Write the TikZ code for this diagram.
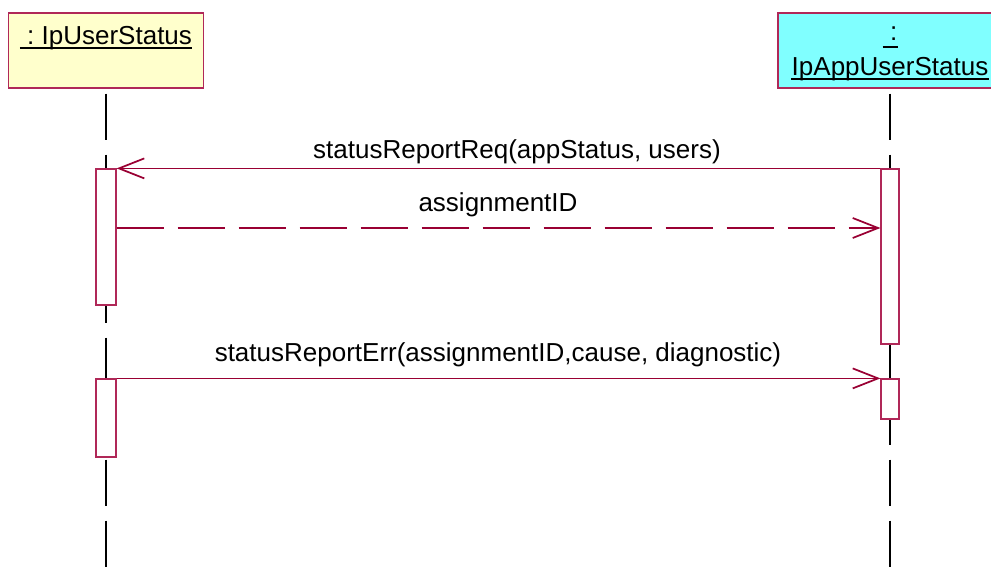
\documentclass[tikz,border=0pt]{standalone}
\usepackage{fontspec}
\setmainfont{Liberation Sans}
\usetikzlibrary{arrows.meta}
\definecolor{linered}{HTML}{990033}
\definecolor{boxedge}{HTML}{B02858}
\definecolor{objyellow}{HTML}{FFFFCC}
\definecolor{objcyan}{HTML}{80FFFF}
\tikzset{
  objbox/.style={draw=boxedge, line width=1pt, minimum height=56.25pt, inner sep=0pt},
  objname/.style={anchor=base, inner sep=0pt, font=\fontsize{19.5pt}{24pt}\selectfont},
  nameline/.style={line width=1.5pt},
  lifeline/.style={line width=0.8pt, dash pattern=on 34.5pt off 11.25pt},
  actbox/.style={draw=boxedge, fill=white, line width=0.9pt, minimum width=15pt, inner sep=0pt},
  msg/.style={draw=linered, line width=1.1pt, -{Straight Barb[length=19pt,width=15pt,line width=1.3pt]}},
  reply/.style={dash pattern=on 35.25pt off 10.5pt},
  msglabel/.style={anchor=base, inner sep=0pt, font=\fontsize{19.5pt}{24pt}\selectfont}
}
\begin{document}
\begin{tikzpicture}[x=0.75pt, y=-0.75pt]
\clip (0,0) rectangle (991,580);
% objects
\node[objbox, fill=objyellow, minimum width=146.25pt] (us) at (106,50.5) {};
\node[objname] (usname) at (106,45) {\ :\ IpUserStatus};
\draw[nameline] ([yshift=-2pt]usname.base west) -- ([yshift=-2pt]usname.base east);
\node[objbox, fill=objcyan, minimum width=168pt] (app) at (890,50.5) {};
\node[objname] (appcolon) at (890,41) {\ :\ };
\draw[nameline] ([yshift=-4.5pt]appcolon.base west) -- ([yshift=-4.5pt]appcolon.base east);
\node[objname] (appname) at (890,76) {IpAppUserStatus};
\draw[nameline] ([yshift=-2pt]appname.base west) -- ([yshift=-2pt]appname.base east);
% lifelines
\coordinate (usend) at (106,580);
\coordinate (append) at (890,580);
\draw[lifeline] ([yshift=-3.75pt]us.south) -- (usend);
\draw[lifeline] ([yshift=-3.75pt]app.south) -- (append);
% activations
\node[actbox, minimum height=102pt] (usact1) at (106,237) {};
\node[actbox, minimum height=58.5pt] (usact2) at (106,418) {};
\node[actbox, minimum width=13.5pt, minimum height=131.25pt] (appact1) at (890,256.5) {};
\node[actbox, minimum width=13.5pt, minimum height=30pt] (appact2) at (890,399) {};
% messages
\draw[msg] (appact1.north west) -- (usact1.north east);
\node[msglabel] (req) at (517,159) {statusReportReq(appStatus, users)};
\draw[msg, reply] (usact1.east |- 0,228) -- (appact1.west |- 0,228);
\node[msglabel] (ret) at (498,212) {assignmentID};
\draw[msg] (usact2.north east) -- (appact2.north west);
\node[msglabel] (err) at (498,362) {statusReportErr(assignmentID,cause, diagnostic)};
\end{tikzpicture}
\end{document}
